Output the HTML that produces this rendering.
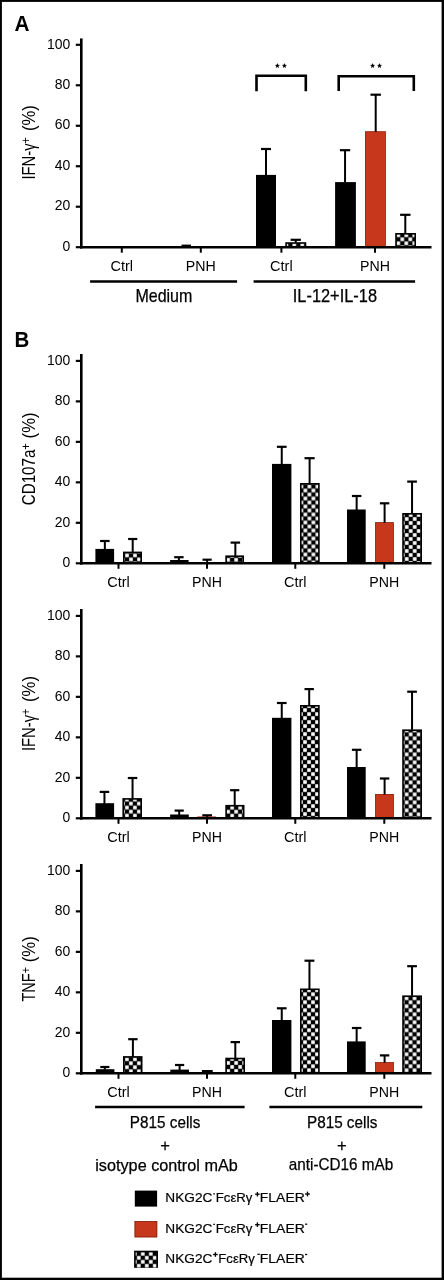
<!DOCTYPE html>
<html><head><meta charset="utf-8"><style>
html,body{margin:0;padding:0;background:#fff;}
body{width:444px;height:1280px;overflow:hidden;}
svg{display:block;font-family:"Liberation Sans", sans-serif;will-change:transform;} .h{stroke:#000;stroke-width:0.25px;} .h2{stroke:#000;stroke-width:0.2px;}
</style></head><body>
<svg width="444" height="1280" viewBox="0 0 444 1280">
<rect x="0" y="0" width="444" height="1280" fill="#fff"/>
<rect x="0" y="0" width="444" height="1.9" fill="#000"/><rect x="0" y="0" width="1.9" height="1280" fill="#000"/><rect x="441.6" y="0" width="2.4" height="1280" fill="#000"/><rect x="0" y="1277.7" width="444" height="2.3" fill="#000"/>
<line x1="81.30" y1="38.40" x2="81.30" y2="248.45" stroke="#000" stroke-width="2.6"/>
<line x1="75.80" y1="247.20" x2="81.30" y2="247.20" stroke="#000" stroke-width="2.2"/>
<text x="70.30" y="250.90" font-size="14.6" text-anchor="end" font-weight="normal" textLength="7.75" lengthAdjust="spacingAndGlyphs" >0</text>
<line x1="75.80" y1="206.72" x2="81.30" y2="206.72" stroke="#000" stroke-width="2.2"/>
<text x="70.30" y="210.42" font-size="14.6" text-anchor="end" font-weight="normal" textLength="15.5" lengthAdjust="spacingAndGlyphs" >20</text>
<line x1="75.80" y1="166.24" x2="81.30" y2="166.24" stroke="#000" stroke-width="2.2"/>
<text x="70.30" y="169.94" font-size="14.6" text-anchor="end" font-weight="normal" textLength="15.5" lengthAdjust="spacingAndGlyphs" >40</text>
<line x1="75.80" y1="125.76" x2="81.30" y2="125.76" stroke="#000" stroke-width="2.2"/>
<text x="70.30" y="129.46" font-size="14.6" text-anchor="end" font-weight="normal" textLength="15.5" lengthAdjust="spacingAndGlyphs" >60</text>
<line x1="75.80" y1="85.28" x2="81.30" y2="85.28" stroke="#000" stroke-width="2.2"/>
<text x="70.30" y="88.98" font-size="14.6" text-anchor="end" font-weight="normal" textLength="15.5" lengthAdjust="spacingAndGlyphs" >80</text>
<line x1="75.80" y1="44.80" x2="81.30" y2="44.80" stroke="#000" stroke-width="2.2"/>
<text x="70.30" y="48.50" font-size="14.6" text-anchor="end" font-weight="normal" textLength="23.26" lengthAdjust="spacingAndGlyphs" >100</text>
<rect x="181.50" y="244.60" width="9.50" height="1.40" fill="#000" />
<rect x="256.00" y="174.90" width="20.00" height="72.30" fill="#000" />
<line x1="266.00" y1="149.00" x2="266.00" y2="175.40" stroke="#000" stroke-width="2.0"/>
<line x1="261.00" y1="149.00" x2="271.00" y2="149.00" stroke="#000" stroke-width="2.2"/>
<pattern id="ck1" patternUnits="userSpaceOnUse" x="288.30" y="242.70" width="8" height="8"><rect width="8" height="8" fill="#000"/><rect x="4.2" y="0.2" width="3.6" height="3.6" fill="#fff"/><rect x="0.2" y="4.2" width="3.6" height="3.6" fill="#fff"/></pattern>
<rect x="285.30" y="242.20" width="21.00" height="5.00" fill="#000" />
<rect x="286.90" y="243.80" width="17.80" height="3.40" fill="url(#ck1)" />
<line x1="295.75" y1="239.80" x2="295.75" y2="242.70" stroke="#000" stroke-width="2.0"/>
<line x1="290.60" y1="239.80" x2="300.90" y2="239.80" stroke="#000" stroke-width="2.2"/>
<rect x="335.10" y="182.10" width="20.80" height="65.10" fill="#000" />
<line x1="345.05" y1="150.20" x2="345.05" y2="182.60" stroke="#000" stroke-width="2.0"/>
<line x1="339.90" y1="150.20" x2="350.20" y2="150.20" stroke="#000" stroke-width="2.2"/>
<rect x="365.00" y="131.40" width="20.70" height="115.80" fill="#c6371b" />
<rect x="365.35" y="131.75" width="20.00" height="115.80" fill="none" stroke="#8a2612" stroke-width="0.7"/>
<line x1="375.70" y1="94.70" x2="375.70" y2="131.90" stroke="#000" stroke-width="2.0"/>
<line x1="370.50" y1="94.70" x2="380.90" y2="94.70" stroke="#000" stroke-width="2.2"/>
<pattern id="ck2" patternUnits="userSpaceOnUse" x="396.30" y="237.30" width="8" height="8"><rect width="8" height="8" fill="#000"/><rect x="4.2" y="0.2" width="3.6" height="3.6" fill="#fff"/><rect x="0.2" y="4.2" width="3.6" height="3.6" fill="#fff"/></pattern>
<rect x="395.20" y="233.00" width="20.80" height="14.20" fill="#000" />
<rect x="396.80" y="234.60" width="17.60" height="12.60" fill="url(#ck2)" />
<line x1="405.30" y1="214.80" x2="405.30" y2="233.50" stroke="#000" stroke-width="2.0"/>
<line x1="400.10" y1="214.80" x2="410.50" y2="214.80" stroke="#000" stroke-width="2.2"/>
<line x1="80.00" y1="247.20" x2="431.50" y2="247.20" stroke="#000" stroke-width="2.6"/>
<line x1="121.80" y1="247.20" x2="121.80" y2="252.70" stroke="#000" stroke-width="2.0"/>
<line x1="200.80" y1="247.20" x2="200.80" y2="252.70" stroke="#000" stroke-width="2.0"/>
<line x1="281.40" y1="247.20" x2="281.40" y2="252.70" stroke="#000" stroke-width="2.0"/>
<line x1="375.00" y1="247.20" x2="375.00" y2="252.70" stroke="#000" stroke-width="2.0"/>
<text x="121.80" y="270.60" font-size="14.5" text-anchor="middle" font-weight="normal" >Ctrl</text>
<text x="200.80" y="270.60" font-size="14.5" text-anchor="middle" font-weight="normal" textLength="29.95" lengthAdjust="spacingAndGlyphs" >PNH</text>
<text x="281.40" y="270.60" font-size="14.5" text-anchor="middle" font-weight="normal" >Ctrl</text>
<text x="375.00" y="270.60" font-size="14.5" text-anchor="middle" font-weight="normal" textLength="29.95" lengthAdjust="spacingAndGlyphs" >PNH</text>
<path d="M256.5 91.3 V75.8 H305.8 V91.3" fill="none" stroke="#000" stroke-width="2.6"/>
<path d="M338.7 91.0 V76.2 H413.8 V91.0" fill="none" stroke="#000" stroke-width="2.6"/>
<polygon points="277.40,63.00 278.06,64.85 280.02,64.91 278.47,66.11 279.02,67.99 277.40,66.88 275.78,67.99 276.33,66.11 274.78,64.91 276.74,64.85" fill="#000"/>
<polygon points="284.40,63.00 285.06,64.85 287.02,64.91 285.47,66.11 286.02,67.99 284.40,66.88 282.78,67.99 283.33,66.11 281.78,64.91 283.74,64.85" fill="#000"/>
<polygon points="372.60,63.00 373.26,64.85 375.22,64.91 373.67,66.11 374.22,67.99 372.60,66.88 370.98,67.99 371.53,66.11 369.98,64.91 371.94,64.85" fill="#000"/>
<polygon points="379.50,63.00 380.16,64.85 382.12,64.91 380.57,66.11 381.12,67.99 379.50,66.88 377.88,67.99 378.43,66.11 376.88,64.91 378.84,64.85" fill="#000"/>
<line x1="90.10" y1="281.50" x2="237.10" y2="281.50" stroke="#000" stroke-width="2.7"/>
<line x1="253.60" y1="281.50" x2="415.10" y2="281.50" stroke="#000" stroke-width="2.7"/>
<text x="163.90" y="302.30" font-size="17.8" text-anchor="middle" font-weight="normal" textLength="57.0" lengthAdjust="spacingAndGlyphs" class="h">Medium</text>
<text x="334.90" y="302.30" font-size="17.8" text-anchor="middle" font-weight="normal" textLength="84.2" lengthAdjust="spacingAndGlyphs" class="h">IL-12+IL-18</text>
<text transform="translate(35.0,118.1) rotate(-90)" font-size="17.8" text-anchor="middle" textLength="26.0" lengthAdjust="spacingAndGlyphs">(%)</text>
<text transform="translate(35.0,158.35) rotate(-90)" font-size="17.8" text-anchor="middle" textLength="42.5" lengthAdjust="spacingAndGlyphs">IFN-&#947;<tspan dy="-4.6" font-size="13">+</tspan></text>
<text x="14.60" y="31.20" font-size="21.5" text-anchor="start" font-weight="bold" textLength="15.0" lengthAdjust="spacingAndGlyphs" >A</text>
<text x="14.60" y="347.00" font-size="21.5" text-anchor="start" font-weight="bold" textLength="14.8" lengthAdjust="spacingAndGlyphs" >B</text>
<line x1="81.30" y1="354.00" x2="81.30" y2="564.55" stroke="#000" stroke-width="2.6"/>
<line x1="75.80" y1="563.30" x2="81.30" y2="563.30" stroke="#000" stroke-width="2.2"/>
<text x="70.30" y="567.00" font-size="14.6" text-anchor="end" font-weight="normal" textLength="7.75" lengthAdjust="spacingAndGlyphs" >0</text>
<line x1="75.80" y1="522.82" x2="81.30" y2="522.82" stroke="#000" stroke-width="2.2"/>
<text x="70.30" y="526.52" font-size="14.6" text-anchor="end" font-weight="normal" textLength="15.5" lengthAdjust="spacingAndGlyphs" >20</text>
<line x1="75.80" y1="482.34" x2="81.30" y2="482.34" stroke="#000" stroke-width="2.2"/>
<text x="70.30" y="486.04" font-size="14.6" text-anchor="end" font-weight="normal" textLength="15.5" lengthAdjust="spacingAndGlyphs" >40</text>
<line x1="75.80" y1="441.86" x2="81.30" y2="441.86" stroke="#000" stroke-width="2.2"/>
<text x="70.30" y="445.56" font-size="14.6" text-anchor="end" font-weight="normal" textLength="15.5" lengthAdjust="spacingAndGlyphs" >60</text>
<line x1="75.80" y1="401.38" x2="81.30" y2="401.38" stroke="#000" stroke-width="2.2"/>
<text x="70.30" y="405.08" font-size="14.6" text-anchor="end" font-weight="normal" textLength="15.5" lengthAdjust="spacingAndGlyphs" >80</text>
<line x1="75.80" y1="360.90" x2="81.30" y2="360.90" stroke="#000" stroke-width="2.2"/>
<text x="70.30" y="364.60" font-size="14.6" text-anchor="end" font-weight="normal" textLength="23.26" lengthAdjust="spacingAndGlyphs" >100</text>
<rect x="95.40" y="548.90" width="18.70" height="14.40" fill="#000" />
<line x1="104.85" y1="541.00" x2="104.85" y2="549.40" stroke="#000" stroke-width="2.0"/>
<line x1="100.10" y1="541.00" x2="109.60" y2="541.00" stroke="#000" stroke-width="2.2"/>
<pattern id="ck3" patternUnits="userSpaceOnUse" x="125.00" y="549.40" width="8" height="8"><rect width="8" height="8" fill="#000"/><rect x="4.2" y="0.2" width="3.6" height="3.6" fill="#fff"/><rect x="0.2" y="4.2" width="3.6" height="3.6" fill="#fff"/></pattern>
<rect x="123.00" y="551.60" width="19.00" height="11.70" fill="#000" />
<rect x="124.60" y="553.20" width="15.80" height="10.10" fill="url(#ck3)" />
<line x1="132.70" y1="539.00" x2="132.70" y2="552.10" stroke="#000" stroke-width="2.0"/>
<line x1="128.10" y1="539.00" x2="137.30" y2="539.00" stroke="#000" stroke-width="2.2"/>
<rect x="170.10" y="560.00" width="18.50" height="3.30" fill="#000" />
<line x1="178.90" y1="557.20" x2="178.90" y2="560.50" stroke="#000" stroke-width="2.0"/>
<line x1="174.20" y1="557.20" x2="183.60" y2="557.20" stroke="#000" stroke-width="2.2"/>
<rect x="197.50" y="562.00" width="18.50" height="1.30" fill="#c6371b" />
<line x1="207.10" y1="559.70" x2="207.10" y2="562.50" stroke="#000" stroke-width="2.0"/>
<line x1="202.50" y1="559.70" x2="211.70" y2="559.70" stroke="#000" stroke-width="2.2"/>
<pattern id="ck4" patternUnits="userSpaceOnUse" x="226.15" y="553.80" width="8" height="8"><rect width="8" height="8" fill="#000"/><rect x="4.2" y="0.2" width="3.6" height="3.6" fill="#fff"/><rect x="0.2" y="4.2" width="3.6" height="3.6" fill="#fff"/></pattern>
<rect x="225.30" y="555.40" width="18.70" height="7.90" fill="#000" />
<rect x="226.90" y="557.00" width="15.50" height="6.30" fill="url(#ck4)" />
<line x1="235.35" y1="542.60" x2="235.35" y2="555.90" stroke="#000" stroke-width="2.0"/>
<line x1="230.60" y1="542.60" x2="240.10" y2="542.60" stroke="#000" stroke-width="2.2"/>
<rect x="272.00" y="463.90" width="19.40" height="99.40" fill="#000" />
<line x1="281.75" y1="446.80" x2="281.75" y2="464.40" stroke="#000" stroke-width="2.0"/>
<line x1="276.90" y1="446.80" x2="286.60" y2="446.80" stroke="#000" stroke-width="2.2"/>
<pattern id="ck5" patternUnits="userSpaceOnUse" x="303.40" y="484.50" width="8" height="8"><rect width="8" height="8" fill="#000"/><rect x="4.2" y="0.2" width="3.6" height="3.6" fill="#fff"/><rect x="0.2" y="4.2" width="3.6" height="3.6" fill="#fff"/></pattern>
<rect x="300.00" y="483.00" width="19.70" height="80.30" fill="#000" />
<rect x="301.60" y="484.60" width="16.50" height="78.70" fill="url(#ck5)" />
<line x1="309.60" y1="458.20" x2="309.60" y2="483.50" stroke="#000" stroke-width="2.0"/>
<line x1="304.50" y1="458.20" x2="314.70" y2="458.20" stroke="#000" stroke-width="2.2"/>
<rect x="347.00" y="509.50" width="18.70" height="53.80" fill="#000" />
<line x1="356.65" y1="496.00" x2="356.65" y2="510.00" stroke="#000" stroke-width="2.0"/>
<line x1="351.90" y1="496.00" x2="361.40" y2="496.00" stroke="#000" stroke-width="2.2"/>
<rect x="375.10" y="522.30" width="18.70" height="41.00" fill="#c6371b" />
<rect x="375.45" y="522.65" width="18.00" height="41.00" fill="none" stroke="#8a2612" stroke-width="0.7"/>
<line x1="384.60" y1="503.30" x2="384.60" y2="522.80" stroke="#000" stroke-width="2.0"/>
<line x1="379.90" y1="503.30" x2="389.30" y2="503.30" stroke="#000" stroke-width="2.2"/>
<pattern id="ck6" patternUnits="userSpaceOnUse" x="404.70" y="513.00" width="8" height="8"><rect width="8" height="8" fill="#000"/><rect x="4.2" y="0.2" width="3.6" height="3.6" fill="#fff"/><rect x="0.2" y="4.2" width="3.6" height="3.6" fill="#fff"/></pattern>
<rect x="402.20" y="513.00" width="19.80" height="50.30" fill="#000" />
<rect x="403.80" y="514.60" width="16.60" height="48.70" fill="url(#ck6)" />
<line x1="412.05" y1="481.60" x2="412.05" y2="513.50" stroke="#000" stroke-width="2.0"/>
<line x1="407.20" y1="481.60" x2="416.90" y2="481.60" stroke="#000" stroke-width="2.2"/>
<line x1="80.00" y1="563.30" x2="431.50" y2="563.30" stroke="#000" stroke-width="2.6"/>
<line x1="118.50" y1="563.30" x2="118.50" y2="568.80" stroke="#000" stroke-width="2.0"/>
<line x1="207.00" y1="563.30" x2="207.00" y2="568.80" stroke="#000" stroke-width="2.0"/>
<line x1="295.30" y1="563.30" x2="295.30" y2="568.80" stroke="#000" stroke-width="2.0"/>
<line x1="384.30" y1="563.30" x2="384.30" y2="568.80" stroke="#000" stroke-width="2.0"/>
<text x="118.50" y="586.60" font-size="14.5" text-anchor="middle" font-weight="normal" >Ctrl</text>
<text x="207.00" y="586.60" font-size="14.5" text-anchor="middle" font-weight="normal" textLength="29.95" lengthAdjust="spacingAndGlyphs" >PNH</text>
<text x="295.30" y="586.60" font-size="14.5" text-anchor="middle" font-weight="normal" >Ctrl</text>
<text x="384.30" y="586.60" font-size="14.5" text-anchor="middle" font-weight="normal" textLength="29.95" lengthAdjust="spacingAndGlyphs" >PNH</text>
<text transform="translate(35.0,425.4) rotate(-90)" font-size="17.8" text-anchor="middle" textLength="26.0" lengthAdjust="spacingAndGlyphs">(%)</text>
<text transform="translate(35.0,474.2) rotate(-90)" font-size="17.8" text-anchor="middle" textLength="62.0" lengthAdjust="spacingAndGlyphs">CD107a<tspan dy="-4.6" font-size="13">+</tspan></text>
<line x1="81.30" y1="609.00" x2="81.30" y2="819.55" stroke="#000" stroke-width="2.6"/>
<line x1="75.80" y1="818.30" x2="81.30" y2="818.30" stroke="#000" stroke-width="2.2"/>
<text x="70.30" y="822.00" font-size="14.6" text-anchor="end" font-weight="normal" textLength="7.75" lengthAdjust="spacingAndGlyphs" >0</text>
<line x1="75.80" y1="777.82" x2="81.30" y2="777.82" stroke="#000" stroke-width="2.2"/>
<text x="70.30" y="781.52" font-size="14.6" text-anchor="end" font-weight="normal" textLength="15.5" lengthAdjust="spacingAndGlyphs" >20</text>
<line x1="75.80" y1="737.34" x2="81.30" y2="737.34" stroke="#000" stroke-width="2.2"/>
<text x="70.30" y="741.04" font-size="14.6" text-anchor="end" font-weight="normal" textLength="15.5" lengthAdjust="spacingAndGlyphs" >40</text>
<line x1="75.80" y1="696.86" x2="81.30" y2="696.86" stroke="#000" stroke-width="2.2"/>
<text x="70.30" y="700.56" font-size="14.6" text-anchor="end" font-weight="normal" textLength="15.5" lengthAdjust="spacingAndGlyphs" >60</text>
<line x1="75.80" y1="656.38" x2="81.30" y2="656.38" stroke="#000" stroke-width="2.2"/>
<text x="70.30" y="660.08" font-size="14.6" text-anchor="end" font-weight="normal" textLength="15.5" lengthAdjust="spacingAndGlyphs" >80</text>
<line x1="75.80" y1="615.90" x2="81.30" y2="615.90" stroke="#000" stroke-width="2.2"/>
<text x="70.30" y="619.60" font-size="14.6" text-anchor="end" font-weight="normal" textLength="23.26" lengthAdjust="spacingAndGlyphs" >100</text>
<rect x="95.40" y="803.20" width="18.70" height="15.10" fill="#000" />
<line x1="104.45" y1="791.90" x2="104.45" y2="803.70" stroke="#000" stroke-width="2.0"/>
<line x1="99.70" y1="791.90" x2="109.20" y2="791.90" stroke="#000" stroke-width="2.2"/>
<pattern id="ck7" patternUnits="userSpaceOnUse" x="124.90" y="801.60" width="8" height="8"><rect width="8" height="8" fill="#000"/><rect x="4.2" y="0.2" width="3.6" height="3.6" fill="#fff"/><rect x="0.2" y="4.2" width="3.6" height="3.6" fill="#fff"/></pattern>
<rect x="122.40" y="798.10" width="19.60" height="20.20" fill="#000" />
<rect x="124.00" y="799.70" width="16.40" height="18.60" fill="url(#ck7)" />
<line x1="132.55" y1="778.00" x2="132.55" y2="798.60" stroke="#000" stroke-width="2.0"/>
<line x1="127.80" y1="778.00" x2="137.30" y2="778.00" stroke="#000" stroke-width="2.2"/>
<rect x="170.10" y="814.50" width="18.70" height="3.80" fill="#000" />
<line x1="179.20" y1="810.60" x2="179.20" y2="815.00" stroke="#000" stroke-width="2.0"/>
<line x1="174.60" y1="810.60" x2="183.80" y2="810.60" stroke="#000" stroke-width="2.2"/>
<rect x="197.30" y="816.40" width="18.70" height="1.90" fill="#c6371b" />
<line x1="207.15" y1="815.30" x2="207.15" y2="816.90" stroke="#000" stroke-width="2.0"/>
<line x1="202.30" y1="815.30" x2="212.00" y2="815.30" stroke="#000" stroke-width="2.2"/>
<pattern id="ck8" patternUnits="userSpaceOnUse" x="226.15" y="805.70" width="8" height="8"><rect width="8" height="8" fill="#000"/><rect x="4.2" y="0.2" width="3.6" height="3.6" fill="#fff"/><rect x="0.2" y="4.2" width="3.6" height="3.6" fill="#fff"/></pattern>
<rect x="225.30" y="804.90" width="19.20" height="13.40" fill="#000" />
<rect x="226.90" y="806.50" width="16.00" height="11.80" fill="url(#ck8)" />
<line x1="234.70" y1="790.20" x2="234.70" y2="805.40" stroke="#000" stroke-width="2.0"/>
<line x1="230.10" y1="790.20" x2="239.30" y2="790.20" stroke="#000" stroke-width="2.2"/>
<rect x="272.00" y="717.80" width="19.40" height="100.50" fill="#000" />
<line x1="281.75" y1="703.00" x2="281.75" y2="718.30" stroke="#000" stroke-width="2.0"/>
<line x1="276.90" y1="703.00" x2="286.60" y2="703.00" stroke="#000" stroke-width="2.2"/>
<pattern id="ck9" patternUnits="userSpaceOnUse" x="303.00" y="704.10" width="8" height="8"><rect width="8" height="8" fill="#000"/><rect x="4.2" y="0.2" width="3.6" height="3.6" fill="#fff"/><rect x="0.2" y="4.2" width="3.6" height="3.6" fill="#fff"/></pattern>
<rect x="300.00" y="705.00" width="19.70" height="113.30" fill="#000" />
<rect x="301.60" y="706.60" width="16.50" height="111.70" fill="url(#ck9)" />
<line x1="309.20" y1="689.10" x2="309.20" y2="705.50" stroke="#000" stroke-width="2.0"/>
<line x1="304.50" y1="689.10" x2="313.90" y2="689.10" stroke="#000" stroke-width="2.2"/>
<rect x="347.00" y="767.00" width="18.70" height="51.30" fill="#000" />
<line x1="356.65" y1="749.80" x2="356.65" y2="767.50" stroke="#000" stroke-width="2.0"/>
<line x1="351.90" y1="749.80" x2="361.40" y2="749.80" stroke="#000" stroke-width="2.2"/>
<rect x="375.10" y="794.00" width="18.70" height="24.30" fill="#c6371b" />
<rect x="375.45" y="794.35" width="18.00" height="24.30" fill="none" stroke="#8a2612" stroke-width="0.7"/>
<line x1="384.60" y1="778.50" x2="384.60" y2="794.50" stroke="#000" stroke-width="2.0"/>
<line x1="379.90" y1="778.50" x2="389.30" y2="778.50" stroke="#000" stroke-width="2.2"/>
<pattern id="ck10" patternUnits="userSpaceOnUse" x="404.65" y="732.40" width="8" height="8"><rect width="8" height="8" fill="#000"/><rect x="4.2" y="0.2" width="3.6" height="3.6" fill="#fff"/><rect x="0.2" y="4.2" width="3.6" height="3.6" fill="#fff"/></pattern>
<rect x="402.20" y="729.40" width="19.80" height="88.90" fill="#000" />
<rect x="403.80" y="731.00" width="16.60" height="87.30" fill="url(#ck10)" />
<line x1="412.05" y1="691.70" x2="412.05" y2="729.90" stroke="#000" stroke-width="2.0"/>
<line x1="407.20" y1="691.70" x2="416.90" y2="691.70" stroke="#000" stroke-width="2.2"/>
<line x1="80.00" y1="818.30" x2="431.50" y2="818.30" stroke="#000" stroke-width="2.6"/>
<line x1="118.50" y1="818.30" x2="118.50" y2="823.80" stroke="#000" stroke-width="2.0"/>
<line x1="207.00" y1="818.30" x2="207.00" y2="823.80" stroke="#000" stroke-width="2.0"/>
<line x1="295.30" y1="818.30" x2="295.30" y2="823.80" stroke="#000" stroke-width="2.0"/>
<line x1="384.30" y1="818.30" x2="384.30" y2="823.80" stroke="#000" stroke-width="2.0"/>
<text x="118.50" y="841.60" font-size="14.5" text-anchor="middle" font-weight="normal" >Ctrl</text>
<text x="207.00" y="841.60" font-size="14.5" text-anchor="middle" font-weight="normal" textLength="29.95" lengthAdjust="spacingAndGlyphs" >PNH</text>
<text x="295.30" y="841.60" font-size="14.5" text-anchor="middle" font-weight="normal" >Ctrl</text>
<text x="384.30" y="841.60" font-size="14.5" text-anchor="middle" font-weight="normal" textLength="29.95" lengthAdjust="spacingAndGlyphs" >PNH</text>
<text transform="translate(35.0,689.05) rotate(-90)" font-size="17.8" text-anchor="middle" textLength="26.0" lengthAdjust="spacingAndGlyphs">(%)</text>
<text transform="translate(35.0,729.85) rotate(-90)" font-size="17.8" text-anchor="middle" textLength="42.5" lengthAdjust="spacingAndGlyphs">IFN-&#947;<tspan dy="-4.6" font-size="13">+</tspan></text>
<line x1="81.30" y1="864.00" x2="81.30" y2="1074.55" stroke="#000" stroke-width="2.6"/>
<line x1="75.80" y1="1073.30" x2="81.30" y2="1073.30" stroke="#000" stroke-width="2.2"/>
<text x="70.30" y="1077.00" font-size="14.6" text-anchor="end" font-weight="normal" textLength="7.75" lengthAdjust="spacingAndGlyphs" >0</text>
<line x1="75.80" y1="1032.82" x2="81.30" y2="1032.82" stroke="#000" stroke-width="2.2"/>
<text x="70.30" y="1036.52" font-size="14.6" text-anchor="end" font-weight="normal" textLength="15.5" lengthAdjust="spacingAndGlyphs" >20</text>
<line x1="75.80" y1="992.34" x2="81.30" y2="992.34" stroke="#000" stroke-width="2.2"/>
<text x="70.30" y="996.04" font-size="14.6" text-anchor="end" font-weight="normal" textLength="15.5" lengthAdjust="spacingAndGlyphs" >40</text>
<line x1="75.80" y1="951.86" x2="81.30" y2="951.86" stroke="#000" stroke-width="2.2"/>
<text x="70.30" y="955.56" font-size="14.6" text-anchor="end" font-weight="normal" textLength="15.5" lengthAdjust="spacingAndGlyphs" >60</text>
<line x1="75.80" y1="911.38" x2="81.30" y2="911.38" stroke="#000" stroke-width="2.2"/>
<text x="70.30" y="915.08" font-size="14.6" text-anchor="end" font-weight="normal" textLength="15.5" lengthAdjust="spacingAndGlyphs" >80</text>
<line x1="75.80" y1="870.90" x2="81.30" y2="870.90" stroke="#000" stroke-width="2.2"/>
<text x="70.30" y="874.60" font-size="14.6" text-anchor="end" font-weight="normal" textLength="23.26" lengthAdjust="spacingAndGlyphs" >100</text>
<rect x="95.80" y="1069.20" width="18.60" height="4.10" fill="#000" />
<line x1="104.85" y1="1067.00" x2="104.85" y2="1069.70" stroke="#000" stroke-width="2.0"/>
<line x1="100.30" y1="1067.00" x2="109.40" y2="1067.00" stroke="#000" stroke-width="2.2"/>
<pattern id="ck11" patternUnits="userSpaceOnUse" x="124.90" y="1061.25" width="8" height="8"><rect width="8" height="8" fill="#000"/><rect x="4.2" y="0.2" width="3.6" height="3.6" fill="#fff"/><rect x="0.2" y="4.2" width="3.6" height="3.6" fill="#fff"/></pattern>
<rect x="123.00" y="1056.10" width="19.50" height="17.20" fill="#000" />
<rect x="124.60" y="1057.70" width="16.30" height="15.60" fill="url(#ck11)" />
<line x1="132.90" y1="1039.20" x2="132.90" y2="1056.60" stroke="#000" stroke-width="2.0"/>
<line x1="128.20" y1="1039.20" x2="137.60" y2="1039.20" stroke="#000" stroke-width="2.2"/>
<rect x="170.30" y="1069.60" width="18.70" height="3.70" fill="#000" />
<line x1="179.60" y1="1065.00" x2="179.60" y2="1070.10" stroke="#000" stroke-width="2.0"/>
<line x1="175.00" y1="1065.00" x2="184.20" y2="1065.00" stroke="#000" stroke-width="2.2"/>
<rect x="197.50" y="1072.00" width="18.50" height="1.30" fill="#c6371b" />
<line x1="207.30" y1="1071.10" x2="207.30" y2="1072.50" stroke="#000" stroke-width="2.0"/>
<line x1="201.90" y1="1071.10" x2="212.70" y2="1071.10" stroke="#000" stroke-width="2.2"/>
<pattern id="ck12" patternUnits="userSpaceOnUse" x="226.15" y="1056.95" width="8" height="8"><rect width="8" height="8" fill="#000"/><rect x="4.2" y="0.2" width="3.6" height="3.6" fill="#fff"/><rect x="0.2" y="4.2" width="3.6" height="3.6" fill="#fff"/></pattern>
<rect x="225.30" y="1057.70" width="19.70" height="15.60" fill="#000" />
<rect x="226.90" y="1059.30" width="16.50" height="14.00" fill="url(#ck12)" />
<line x1="235.30" y1="1042.10" x2="235.30" y2="1058.20" stroke="#000" stroke-width="2.0"/>
<line x1="230.60" y1="1042.10" x2="240.00" y2="1042.10" stroke="#000" stroke-width="2.2"/>
<rect x="272.00" y="1020.00" width="19.40" height="53.30" fill="#000" />
<line x1="281.75" y1="1008.30" x2="281.75" y2="1020.50" stroke="#000" stroke-width="2.0"/>
<line x1="276.90" y1="1008.30" x2="286.60" y2="1008.30" stroke="#000" stroke-width="2.2"/>
<pattern id="ck13" patternUnits="userSpaceOnUse" x="303.00" y="988.25" width="8" height="8"><rect width="8" height="8" fill="#000"/><rect x="4.2" y="0.2" width="3.6" height="3.6" fill="#fff"/><rect x="0.2" y="4.2" width="3.6" height="3.6" fill="#fff"/></pattern>
<rect x="300.00" y="988.50" width="19.70" height="84.80" fill="#000" />
<rect x="301.60" y="990.10" width="16.50" height="83.20" fill="url(#ck13)" />
<line x1="309.45" y1="960.70" x2="309.45" y2="989.00" stroke="#000" stroke-width="2.0"/>
<line x1="304.50" y1="960.70" x2="314.40" y2="960.70" stroke="#000" stroke-width="2.2"/>
<rect x="347.00" y="1041.40" width="18.70" height="31.90" fill="#000" />
<line x1="356.65" y1="1028.00" x2="356.65" y2="1041.90" stroke="#000" stroke-width="2.0"/>
<line x1="351.90" y1="1028.00" x2="361.40" y2="1028.00" stroke="#000" stroke-width="2.2"/>
<rect x="375.10" y="1062.20" width="18.70" height="11.10" fill="#c6371b" />
<rect x="375.45" y="1062.55" width="18.00" height="11.10" fill="none" stroke="#8a2612" stroke-width="0.7"/>
<line x1="384.60" y1="1055.40" x2="384.60" y2="1062.70" stroke="#000" stroke-width="2.0"/>
<line x1="379.90" y1="1055.40" x2="389.30" y2="1055.40" stroke="#000" stroke-width="2.2"/>
<pattern id="ck14" patternUnits="userSpaceOnUse" x="404.55" y="1000.30" width="8" height="8"><rect width="8" height="8" fill="#000"/><rect x="4.2" y="0.2" width="3.6" height="3.6" fill="#fff"/><rect x="0.2" y="4.2" width="3.6" height="3.6" fill="#fff"/></pattern>
<rect x="402.20" y="995.40" width="19.80" height="77.90" fill="#000" />
<rect x="403.80" y="997.00" width="16.60" height="76.30" fill="url(#ck14)" />
<line x1="412.05" y1="966.20" x2="412.05" y2="995.90" stroke="#000" stroke-width="2.0"/>
<line x1="407.20" y1="966.20" x2="416.90" y2="966.20" stroke="#000" stroke-width="2.2"/>
<line x1="80.00" y1="1073.30" x2="431.50" y2="1073.30" stroke="#000" stroke-width="2.6"/>
<line x1="118.50" y1="1073.30" x2="118.50" y2="1078.80" stroke="#000" stroke-width="2.0"/>
<line x1="207.00" y1="1073.30" x2="207.00" y2="1078.80" stroke="#000" stroke-width="2.0"/>
<line x1="295.30" y1="1073.30" x2="295.30" y2="1078.80" stroke="#000" stroke-width="2.0"/>
<line x1="384.30" y1="1073.30" x2="384.30" y2="1078.80" stroke="#000" stroke-width="2.0"/>
<text x="118.50" y="1096.60" font-size="14.5" text-anchor="middle" font-weight="normal" >Ctrl</text>
<text x="207.00" y="1096.60" font-size="14.5" text-anchor="middle" font-weight="normal" textLength="29.95" lengthAdjust="spacingAndGlyphs" >PNH</text>
<text x="295.30" y="1096.60" font-size="14.5" text-anchor="middle" font-weight="normal" >Ctrl</text>
<text x="384.30" y="1096.60" font-size="14.5" text-anchor="middle" font-weight="normal" textLength="29.95" lengthAdjust="spacingAndGlyphs" >PNH</text>
<text transform="translate(35.0,949.3) rotate(-90)" font-size="17.8" text-anchor="middle" textLength="26.0" lengthAdjust="spacingAndGlyphs">(%)</text>
<text transform="translate(35.0,984.3) rotate(-90)" font-size="17.8" text-anchor="middle" textLength="34.5" lengthAdjust="spacingAndGlyphs">TNF<tspan dy="-4.6" font-size="13">+</tspan></text>
<line x1="95.10" y1="1107.00" x2="244.60" y2="1107.00" stroke="#000" stroke-width="2.7"/>
<line x1="269.40" y1="1107.00" x2="422.30" y2="1107.00" stroke="#000" stroke-width="2.7"/>
<text x="165.10" y="1128.20" font-size="17" text-anchor="middle" font-weight="normal" textLength="70.5" lengthAdjust="spacingAndGlyphs" class="h">P815 cells</text>
<text x="165.00" y="1151.00" font-size="16.5" text-anchor="middle" font-weight="normal" class="h">+</text>
<text x="166.50" y="1170.50" font-size="17" text-anchor="middle" font-weight="normal" textLength="142.5" lengthAdjust="spacingAndGlyphs" class="h">isotype control mAb</text>
<text x="342.20" y="1128.20" font-size="17" text-anchor="middle" font-weight="normal" textLength="70.5" lengthAdjust="spacingAndGlyphs" class="h">P815 cells</text>
<text x="341.80" y="1151.00" font-size="16.5" text-anchor="middle" font-weight="normal" class="h">+</text>
<text x="341.00" y="1170.40" font-size="17" text-anchor="middle" font-weight="normal" textLength="104.5" lengthAdjust="spacingAndGlyphs" class="h">anti-CD16 mAb</text>
<rect x="134.80" y="1190.60" width="22.30" height="16.00" fill="#000" />
<rect x="134.60" y="1221.10" width="22.60" height="16.20" fill="#c6371b" />
<rect x="134.95" y="1221.45" width="21.90" height="15.50" fill="none" stroke="#7a2010" stroke-width="0.7"/>
<pattern id="ck15" patternUnits="userSpaceOnUse" x="136.80" y="1251.80" width="8" height="8"><rect width="8" height="8" fill="#000"/><rect x="4.2" y="0.2" width="3.6" height="3.6" fill="#fff"/><rect x="0.2" y="4.2" width="3.6" height="3.6" fill="#fff"/></pattern>
<rect x="134.10" y="1250.70" width="23.90" height="17.10" fill="#000" />
<rect x="135.70" y="1252.30" width="20.70" height="15.50" fill="url(#ck15)" />
<text class="h2" x="165.38" y="1202.1" font-size="13.5" textLength="46.95" lengthAdjust="spacingAndGlyphs">NKG2C</text>
<text class="h2" x="215.82" y="1202.1" font-size="13.5" textLength="36.65" lengthAdjust="spacingAndGlyphs">Fc&#949;R&#947;</text>
<text class="h2" x="259.86" y="1202.1" font-size="13.5" textLength="44.9" lengthAdjust="spacingAndGlyphs">FLAER</text>
<line x1="213.30" y1="1193.90" x2="214.90" y2="1193.90" stroke="#000" stroke-width="1.3"/>
<line x1="255.10" y1="1194.20" x2="259.70" y2="1194.20" stroke="#000" stroke-width="1.35"/>
<line x1="257.40" y1="1191.90" x2="257.40" y2="1196.50" stroke="#000" stroke-width="1.35"/>
<line x1="305.10" y1="1194.00" x2="309.90" y2="1194.00" stroke="#000" stroke-width="1.35"/>
<line x1="307.50" y1="1191.60" x2="307.50" y2="1196.40" stroke="#000" stroke-width="1.35"/>
<text class="h2" x="165.38" y="1232.6" font-size="13.5" textLength="46.95" lengthAdjust="spacingAndGlyphs">NKG2C</text>
<text class="h2" x="215.82" y="1232.6" font-size="13.5" textLength="36.65" lengthAdjust="spacingAndGlyphs">Fc&#949;R&#947;</text>
<text class="h2" x="259.86" y="1232.6" font-size="13.5" textLength="44.9" lengthAdjust="spacingAndGlyphs">FLAER</text>
<line x1="213.30" y1="1224.40" x2="214.90" y2="1224.40" stroke="#000" stroke-width="1.3"/>
<line x1="255.10" y1="1224.70" x2="259.70" y2="1224.70" stroke="#000" stroke-width="1.35"/>
<line x1="257.40" y1="1222.40" x2="257.40" y2="1227.00" stroke="#000" stroke-width="1.35"/>
<line x1="305.10" y1="1224.20" x2="307.20" y2="1224.20" stroke="#000" stroke-width="1.3"/>
<text class="h2" x="165.38" y="1262.9" font-size="13.5" textLength="46.95" lengthAdjust="spacingAndGlyphs">NKG2C</text>
<text class="h2" x="218.32" y="1262.9" font-size="13.5" textLength="36.65" lengthAdjust="spacingAndGlyphs">Fc&#949;R&#947;</text>
<text class="h2" x="259.86" y="1262.9" font-size="13.5" textLength="44.9" lengthAdjust="spacingAndGlyphs">FLAER</text>
<line x1="213.10" y1="1254.50" x2="217.70" y2="1254.50" stroke="#000" stroke-width="1.35"/>
<line x1="215.40" y1="1252.20" x2="215.40" y2="1256.80" stroke="#000" stroke-width="1.35"/>
<line x1="257.50" y1="1254.30" x2="259.70" y2="1254.30" stroke="#000" stroke-width="1.3"/>
<line x1="305.10" y1="1254.50" x2="307.20" y2="1254.50" stroke="#000" stroke-width="1.3"/>
</svg>
</body></html>
